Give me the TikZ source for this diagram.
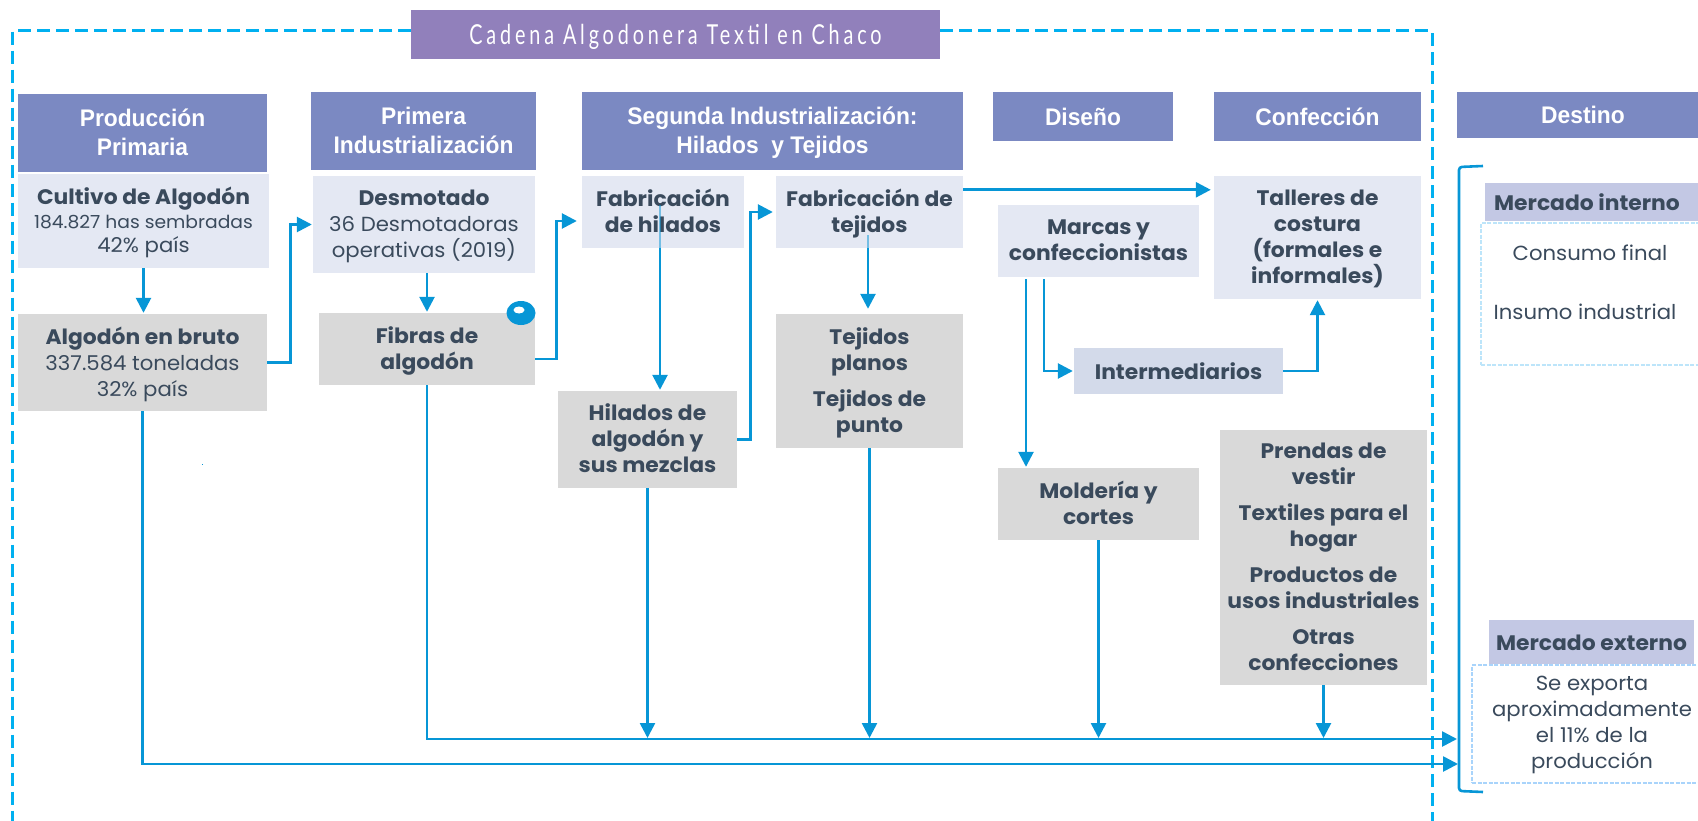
\documentclass[tikz,border=0pt]{standalone}
\usepackage{fontspec}
\usetikzlibrary{arrows.meta}
\setmainfont{Poppins}[FakeStretch=1.04]
\newfontfamily\headfont{Liberation Sans}[FakeStretch=.95]
\newfontfamily\titlefont{Lato}[FakeStretch=.72,LetterSpace=14]
\definecolor{headblue}{HTML}{7B89C2}
\definecolor{titlepurple}{HTML}{9180BB}
\definecolor{lightfill}{HTML}{E4E8F3}
\definecolor{greyfill}{HTML}{D9D9D9}
\definecolor{midfill}{HTML}{D3DAEA}
\definecolor{tagfill}{HTML}{C3C8E4}
\definecolor{inktext}{HTML}{3A4A5C}
\definecolor{flowblue}{HTML}{0796D6}
\definecolor{framecyan}{HTML}{00B0F0}
\definecolor{dotcyan}{HTML}{BDE5FA}
\definecolor{dotblue}{HTML}{A9D4FB}
\newcommand{\bodystrut}{\rule[-6pt]{0pt}{32.4pt}}
\newcommand{\headstrut}{\rule[-7pt]{0pt}{37pt}}
\tikzset{
  basebox/.style={inner sep=0pt,align=center,text=inktext,font=\fontsize{21}{26}\selectfont\bfseries,
    text depth=2pt,execute at begin node=\bodystrut},
  headbox/.style={inner sep=0pt,align=center,fill=headblue,text=white,font=\headfont\fontsize{24}{29}\selectfont\bfseries,
    text depth=1pt,execute at begin node=\headstrut},
  lightbox/.style={basebox,fill=lightfill},
  greybox/.style={basebox,fill=greyfill},
  tagbox/.style={basebox,fill=tagfill,oneline},
  oneline/.style={text depth=10pt},
  headone/.style={text depth=12pt},
  plaintext/.style={inner sep=0pt,align=center,text=inktext,font=\fontsize{20.4}{26}\selectfont,
    text depth=4pt,execute at begin node=\bodystrut},
  dotbox/.style={inner sep=0pt,draw=dotcyan,line width=2pt,dash pattern=on 4pt off 1.5pt},
  flow/.style={->,draw=flowblue,line width=2.6pt,shorten >=1pt},
  frameline/.style={draw=framecyan,line width=3pt,dash pattern=on 13pt off 6pt}
}
\newcommand{\smalltxt}{\mdseries\fontsize{18}{24}\selectfont}
\newcommand{\thintxt}{\mdseries\fontsize{20.4}{26}\selectfont}
\begin{document}
\begin{tikzpicture}[x=1pt,y=-1pt,>={Triangle[length=15pt,width=15pt]}]
  \useasboundingbox (0,0) rectangle (1698,821);
  \clip (0,0) rectangle (1698,821);

% define the frame and the title
  \node[fill=titlepurple,text=white,inner sep=0pt,minimum width=529pt,minimum height=49pt,font=\titlefont\fontsize{27.5}{32}\selectfont,execute at begin node={\rule[-6.5pt]{0pt}{33.8pt}}] (title) at (675.5,34.5) {Cadena Algodonera Textil en Chaco};
  \coordinate (frameleft) at (12.5,31);
  \coordinate (frameright) at (1432,31);
  \draw[frameline] (title.west |- frameleft) -- (frameleft) -- (12.5,821);
  \draw[frameline] (title.east |- frameright) -- (frameright) -- (1432,821);

% define the headers
  \node[headbox,minimum width=249pt,minimum height=78pt] (hprimaria) at (142.5,133) {Producción\\Primaria};
  \node[headbox,minimum width=225pt,minimum height=78pt] (hprimera) at (423.5,131) {Primera\\Industrialización};
  \node[headbox,minimum width=381pt,minimum height=78pt] (hsegunda) at (772.5,131) {Segunda Industrialización:\\Hilados\ \ y Tejidos};
  \node[headbox,headone,minimum width=180pt,minimum height=49pt] (hdiseno) at (1083,116.5) {Diseño};
  \node[headbox,headone,minimum width=207pt,minimum height=49pt] (hconfeccion) at (1317.5,116.5) {Confección};
  \node[headbox,headone,minimum width=241pt,minimum height=46pt] (hdestino) at (1577.5,115) {\hspace*{11pt}Destino};

% define the boxes of the chain
  \node[lightbox,minimum width=251pt,minimum height=94pt] (cultivo) at (143.5,221) {Cultivo de Algodón\\[-2pt]{\smalltxt 184.827 has sembradas}\\[-2pt]{\thintxt 42\% país}};
  \node[greybox,minimum width=249pt,minimum height=97pt] (bruto) at (142.5,362.5) {Algodón en bruto\\{\thintxt 337.584 toneladas}\\{\thintxt 32\% país}};
  \node[lightbox,minimum width=222pt,minimum height=97pt] (desmotado) at (424,224.5) {Desmotado\\{\thintxt 36 Desmotadoras}\\{\thintxt operativas (2019)}};
  \node[greybox,minimum width=216pt,minimum height=72pt] (fibras) at (427,349) {Fibras de\\algodón};
  \node[lightbox,minimum width=162pt,minimum height=72pt] (fabhilados) at (663,212) {Fabricación\\de hilados};
  \node[lightbox,minimum width=187pt,minimum height=72pt] (fabtejidos) at (869.5,212) {Fabricación de\\tejidos};
  \node[greybox,minimum width=179pt,minimum height=97pt] (hilados) at (647.5,439.5) {Hilados de\\algodón y\\sus mezclas};
  \node[greybox,minimum width=187pt,minimum height=134pt] (tejidos) at (869.5,381) {Tejidos\\planos\\[10pt]Tejidos de\\punto};
  \node[lightbox,minimum width=201pt,minimum height=72pt] (marcas) at (1098.5,241) {Marcas y\\confeccionistas};
  \node[lightbox,minimum width=207pt,minimum height=123pt] (talleres) at (1317.5,237.5) {Talleres de\\costura\\(formales e\\informales)};
  \node[basebox,oneline,fill=midfill,minimum width=209pt,minimum height=46pt] (intermediarios) at (1178.5,371) {Intermediarios};
  \node[greybox,minimum width=201pt,minimum height=72pt] (molderia) at (1098.5,504) {Moldería y\\cortes};
  \node[greybox,minimum width=207pt,minimum height=255pt] (prendas) at (1323.5,557.5) {Prendas de\\vestir\\[10pt]Textiles para el\\hogar\\[10pt]Productos de\\usos industriales\\[10pt]Otras\\confecciones};

% define the destination side
  \node[dotbox,minimum width=231pt,minimum height=142pt] (cajainterno) at (1596.5,294) {};
  \node[tagbox,minimum width=213pt,minimum height=38pt] (interno) at (1591.5,202) {Mercado interno\hspace*{9pt}};
  \node[plaintext,oneline] (consumo) at (1590,252) {Consumo final};
  \node[plaintext,oneline] (insumo) at (1585,311) {Insumo industrial};
  \node[tagbox,minimum width=205pt,minimum height=44pt] (externo) at (1591.5,642) {Mercado externo};
  \node[dotbox,draw=dotblue,plaintext,minimum width=240pt,minimum height=118pt] (cajaexterno) at (1592,724) {Se exporta\\aproximadamente\\el 11\% de la\\producción};
  \draw[draw=flowblue,line width=2.6pt,rounded corners=3pt] (1483,166) -- (1459,167) -- (1459,791) -- (1483,792);
  \coordinate (busfibras) at (1458,739);
  \coordinate (busbruto) at (1459,764);

% define the small marks
  \fill[flowblue] (521,313) ellipse (14.5 and 12);
  \fill[white] (519,310) ellipse (5.5 and 3.5);
  \fill[flowblue] (201.5,463.5) rectangle (203,465);

% define the links
  \draw[flow] (cultivo.south) -- (cultivo.south |- bruto.north);
  \draw[flow] (bruto.east) -- ++(23,0) |- (desmotado.west);
  \draw[flow] (fibras.north |- desmotado.south) -- (fibras.north);
  \draw[flow] ([yshift=-10pt]fibras.east) -- ++(21,0) |- ([yshift=-9pt,xshift=-4pt]fabhilados.west);
  \draw[flowblue,line width=2.6pt,opacity=.5] ([xshift=-3pt,yshift=7pt]fabhilados.center) -- ([xshift=-3pt]fabhilados.south);
  \draw[flow] ([xshift=-3pt]fabhilados.south) -- ([xshift=-3pt]fabhilados.south |- hilados.north);
  \draw[flow] (hilados.east) -- ++(13,0) |- ([xshift=-2pt]fabtejidos.west);
  \draw[flowblue,line width=2.6pt,opacity=.5] ([xshift=-1.5pt,yshift=13pt]fabtejidos.south) -- ([xshift=-1.5pt]fabtejidos.south);
  \draw[flow] ([xshift=-1.5pt]fabtejidos.south) -- ([xshift=-1.5pt,yshift=4pt]fabtejidos.south |- tejidos.north);
  \draw[flow] ([yshift=-14pt]fabtejidos.north east) -- ([xshift=-2pt,yshift=-14pt]talleres.north west);
  \draw[flow] ([xshift=-72.5pt,yshift=-2pt]marcas.south) -- ([xshift=-72.5pt]marcas.south |- molderia.north);
  \draw[flow] ([xshift=-54.5pt,yshift=-2pt]marcas.south) |- (intermediarios.west);
  \draw[flow] (intermediarios.east) -| (talleres.south);
  \draw[flow] (hilados.south) -- (hilados.south |- busfibras);
  \draw[flow] (tejidos.south) -- (tejidos.south |- busfibras);
  \draw[flow] (molderia.south) -- (molderia.south |- busfibras);
  \draw[flow] (prendas.south) -- (prendas.south |- busfibras);
  \draw[flow] (fibras.south) |- (busfibras);
  \draw[flow] (bruto.south) |- (busbruto);
\end{tikzpicture}
\end{document}
